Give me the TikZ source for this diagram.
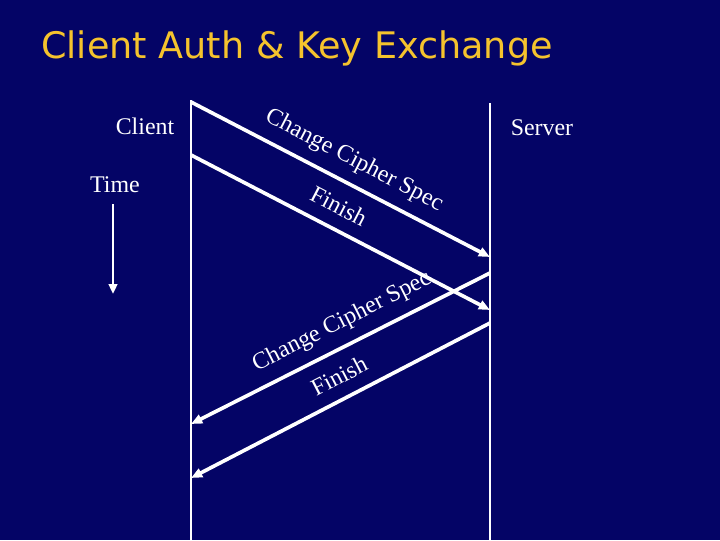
\documentclass[tikz,border=0pt]{standalone}
\usepackage{fontspec}
\setmainfont{Liberation Serif}
\newfontfamily\titlefont{DejaVu Sans}
\usetikzlibrary{arrows.meta}
\definecolor{slidebg}{RGB}{4,4,102}
\definecolor{titleyellow}{RGB}{245,195,45}

\begin{document}
\begin{tikzpicture}[
    x=0.025cm, y=-0.025cm,
    every node/.style={font=\fontsize{17}{20}\selectfont, text=white, inner sep=0pt},
    title/.style={font=\titlefont\fontsize{26}{30}\selectfont, text=titleyellow, anchor=base west},
    life/.style={draw=white, line width=2.1pt},
    msg/.style={draw=white, line width=2.6pt, -{Triangle[length=8pt,width=6.5pt]}},
    lbl/.style={sloped, text depth=0pt, inner sep=11pt},
    lblf/.style={sloped, text depth=0pt, inner sep=9pt}
]
% background
\fill[slidebg] (0,0) rectangle (720,540);
\useasboundingbox (0,0) rectangle (720,540);

% Title
\node[title] (head) at (41,58) {Client Auth \& Key Exchange};

% Lifelines
\coordinate (ctop) at (191,100);
\coordinate (cbot) at (191,540);
\coordinate (stop) at (490,103);
\coordinate (sbot) at (490,540);
\draw[life] (ctop) -- (cbot);
\draw[life] (stop) -- (sbot);
\node[anchor=base] (client) at (145,134) {Client};
\node[anchor=base] (server) at (542,135) {Server};

% Time
\node[anchor=base] (time) at (115,192) {Time};
\coordinate (t0) at (113,204);
\coordinate (t1) at (113,294);
\draw[life, -{Triangle[length=7pt,width=6pt]}] (t0) -- (t1);

% Client -> Server
\coordinate (c1) at (191,102);
\coordinate (s1) at (490,257);
\coordinate (c2) at (191,155);
\coordinate (s2) at (490,310);
\draw[msg] (c1) -- node[lbl, above, pos=0.51] (ccs1) {Change Cipher Spec} (s1);
\draw[msg] (c2) -- node[lblf, above, pos=0.46] (fin1) {Finish} (s2);

% Server -> Client
\coordinate (s3) at (490,273);
\coordinate (c3) at (191,424);
\coordinate (s4) at (490,323);
\coordinate (c4) at (191,478);
\draw[msg] (s3) -- node[lbl, above, pos=0.46] (ccs2) {Change Cipher Spec} (c3);
\draw[msg] (s4) -- node[lblf, above, pos=0.47] (fin2) {Finish} (c4);
\end{tikzpicture}
\end{document}
